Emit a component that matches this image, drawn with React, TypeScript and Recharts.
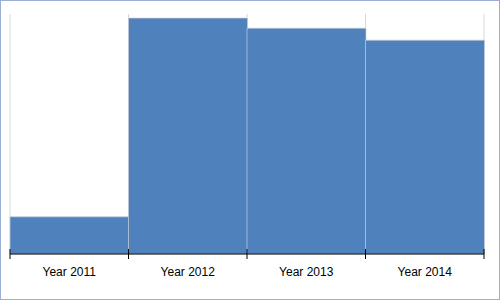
import React from 'react';
import { BarChart, Bar, XAxis, YAxis, CartesianGrid } from 'recharts';

const years = ['Year 2011', 'Year 2012', 'Year 2013', 'Year 2014'];
const values = [15.5, 98.3, 94.1, 89.1];

const data = years.map((year, i) => ({ year, value: values[i] }));

const BoundaryTick = ({ x, y, payload, index }: any) => {
  const half = payload.offset || 0;
  const last = index === years.length - 1;
  return (
    <g>
      <line x1={x - half} x2={x - half} y1={y - 5} y2={y + 5} stroke="#000" />
      {last && <line x1={x + half} x2={x + half} y1={y - 5} y2={y + 5} stroke="#000" />}
      <text
        x={x}
        y={y + 22}
        textAnchor="middle"
        fontSize={12}
        fontFamily="'Liberation Sans', Arial, sans-serif"
        fill="#000"
      >
        {payload.value}
      </text>
    </g>
  );
};

const App = () => (
  <div
    style={{
      position: 'absolute',
      top: 0,
      left: 0,
      width: 500,
      height: 300,
      boxSizing: 'border-box',
      border: '1px solid #9aaed6',
      background: '#fff'
    }}
  >
    <BarChart
      width={498}
      height={298}
      data={data}
      barCategoryGap={0}
      margin={{ top: 13, right: 15, left: 9, bottom: 0 }}
    >
      <CartesianGrid
        horizontal={false}
        stroke="#d9d9d9"
        verticalCoordinatesGenerator={({ offset }: any) =>
          years.map((_, i) => offset.left + (i * offset.width) / years.length).concat(offset.left + offset.width)
        }
      />
      <XAxis
        dataKey="year"
        height={45}
        interval={0}
        tickLine={false}
        tickSize={0}
        tickMargin={0}
        axisLine={{ stroke: '#000' }}
        tick={<BoundaryTick />}
      />
      <YAxis hide domain={[0, 100]} />
      <Bar
        dataKey="value"
        fill="#4f81bd"
        stroke="rgba(200,205,215,0.7)"
        strokeWidth={1}
        isAnimationActive={false}
      />
    </BarChart>
  </div>
);

export default App;
